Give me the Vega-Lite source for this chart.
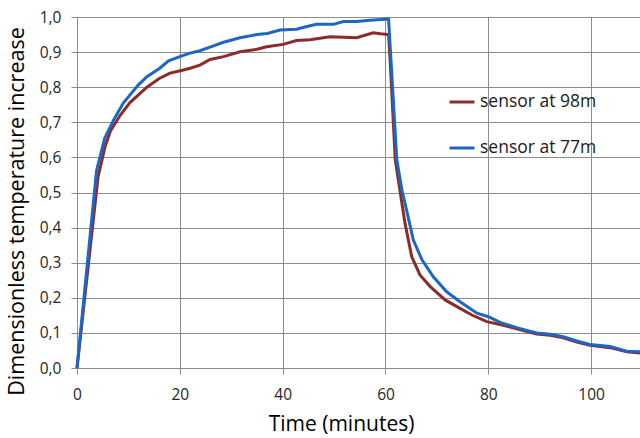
{
  "$schema": "https://vega.github.io/schema/vega-lite/v6.json",
  "width": 563,
  "height": 351,
  "autosize": {"type": "none"},
  "padding": {"left": 77, "top": 17, "right": 0, "bottom": 70},
  "background": "white",
  "config": {
    "locale": {"number": {"decimal": ",", "thousands": " ", "grouping": [3], "currency": ["", " €"]}},
    "view": {"stroke": "transparent"},
    "axis": {
      "labelFont": "Open Sans",
      "labelFontSize": 15.5,
      "labelColor": "#262626",
      "titleFont": "Open Sans",
      "titleFontWeight": "normal",
      "titleColor": "#000000",
      "grid": true,
      "gridColor": "#8c8c8c",
      "domainColor": "#8c8c8c",
      "tickColor": "#8c8c8c",
      "tickSize": 6,
      "labelFlush": false
    }
  },
  "data": {
    "values": [
      {"t": 0, "v": 0, "s": "sensor at 98m"},
      {"t": 4.1, "v": 0.545, "s": "sensor at 98m"},
      {"t": 5.45, "v": 0.63, "s": "sensor at 98m"},
      {"t": 6.5, "v": 0.675, "s": "sensor at 98m"},
      {"t": 8.4, "v": 0.72, "s": "sensor at 98m"},
      {"t": 10.3, "v": 0.756, "s": "sensor at 98m"},
      {"t": 13.6, "v": 0.8, "s": "sensor at 98m"},
      {"t": 16, "v": 0.825, "s": "sensor at 98m"},
      {"t": 18.1, "v": 0.84, "s": "sensor at 98m"},
      {"t": 20.7, "v": 0.849, "s": "sensor at 98m"},
      {"t": 22, "v": 0.854, "s": "sensor at 98m"},
      {"t": 23.9, "v": 0.863, "s": "sensor at 98m"},
      {"t": 25.9, "v": 0.879, "s": "sensor at 98m"},
      {"t": 28.5, "v": 0.887, "s": "sensor at 98m"},
      {"t": 31.7, "v": 0.901, "s": "sensor at 98m"},
      {"t": 35, "v": 0.908, "s": "sensor at 98m"},
      {"t": 36.9, "v": 0.915, "s": "sensor at 98m"},
      {"t": 40.1, "v": 0.922, "s": "sensor at 98m"},
      {"t": 42.7, "v": 0.933, "s": "sensor at 98m"},
      {"t": 45.3, "v": 0.935, "s": "sensor at 98m"},
      {"t": 49.2, "v": 0.944, "s": "sensor at 98m"},
      {"t": 54.4, "v": 0.941, "s": "sensor at 98m"},
      {"t": 57.6, "v": 0.955, "s": "sensor at 98m"},
      {"t": 59, "v": 0.952, "s": "sensor at 98m"},
      {"t": 60.6, "v": 0.95, "s": "sensor at 98m"},
      {"t": 60.9, "v": 0.877, "s": "sensor at 98m"},
      {"t": 61.9, "v": 0.593, "s": "sensor at 98m"},
      {"t": 62.8, "v": 0.507, "s": "sensor at 98m"},
      {"t": 63.8, "v": 0.412, "s": "sensor at 98m"},
      {"t": 65.1, "v": 0.317, "s": "sensor at 98m"},
      {"t": 66.7, "v": 0.265, "s": "sensor at 98m"},
      {"t": 68.7, "v": 0.232, "s": "sensor at 98m"},
      {"t": 71.6, "v": 0.194, "s": "sensor at 98m"},
      {"t": 74.5, "v": 0.17, "s": "sensor at 98m"},
      {"t": 76.8, "v": 0.151, "s": "sensor at 98m"},
      {"t": 79.7, "v": 0.132, "s": "sensor at 98m"},
      {"t": 82.9, "v": 0.122, "s": "sensor at 98m"},
      {"t": 85.5, "v": 0.112, "s": "sensor at 98m"},
      {"t": 89.4, "v": 0.097, "s": "sensor at 98m"},
      {"t": 92, "v": 0.093, "s": "sensor at 98m"},
      {"t": 94.6, "v": 0.086, "s": "sensor at 98m"},
      {"t": 97.2, "v": 0.074, "s": "sensor at 98m"},
      {"t": 99.8, "v": 0.065, "s": "sensor at 98m"},
      {"t": 103.7, "v": 0.058, "s": "sensor at 98m"},
      {"t": 106.9, "v": 0.046, "s": "sensor at 98m"},
      {"t": 109.5, "v": 0.043, "s": "sensor at 98m"},
      {"t": 0, "v": 0, "s": "sensor at 77m"},
      {"t": 3.8, "v": 0.562, "s": "sensor at 77m"},
      {"t": 5.4, "v": 0.655, "s": "sensor at 77m"},
      {"t": 7.1, "v": 0.706, "s": "sensor at 77m"},
      {"t": 9.0, "v": 0.755, "s": "sensor at 77m"},
      {"t": 11.9, "v": 0.806, "s": "sensor at 77m"},
      {"t": 13.6, "v": 0.83, "s": "sensor at 77m"},
      {"t": 16.1, "v": 0.854, "s": "sensor at 77m"},
      {"t": 17.8, "v": 0.875, "s": "sensor at 77m"},
      {"t": 20, "v": 0.887, "s": "sensor at 77m"},
      {"t": 22, "v": 0.897, "s": "sensor at 77m"},
      {"t": 23.9, "v": 0.904, "s": "sensor at 77m"},
      {"t": 26, "v": 0.915, "s": "sensor at 77m"},
      {"t": 28.5, "v": 0.928, "s": "sensor at 77m"},
      {"t": 31.7, "v": 0.941, "s": "sensor at 77m"},
      {"t": 35, "v": 0.95, "s": "sensor at 77m"},
      {"t": 37, "v": 0.953, "s": "sensor at 77m"},
      {"t": 39.5, "v": 0.963, "s": "sensor at 77m"},
      {"t": 42.7, "v": 0.965, "s": "sensor at 77m"},
      {"t": 44.5, "v": 0.972, "s": "sensor at 77m"},
      {"t": 46.6, "v": 0.979, "s": "sensor at 77m"},
      {"t": 49.9, "v": 0.979, "s": "sensor at 77m"},
      {"t": 51.8, "v": 0.987, "s": "sensor at 77m"},
      {"t": 54.4, "v": 0.987, "s": "sensor at 77m"},
      {"t": 57, "v": 0.991, "s": "sensor at 77m"},
      {"t": 60.6, "v": 0.994, "s": "sensor at 77m"},
      {"t": 62.2, "v": 0.593, "s": "sensor at 77m"},
      {"t": 63.2, "v": 0.507, "s": "sensor at 77m"},
      {"t": 64.1, "v": 0.45, "s": "sensor at 77m"},
      {"t": 65.4, "v": 0.365, "s": "sensor at 77m"},
      {"t": 67.1, "v": 0.308, "s": "sensor at 77m"},
      {"t": 69.3, "v": 0.26, "s": "sensor at 77m"},
      {"t": 71.9, "v": 0.217, "s": "sensor at 77m"},
      {"t": 74.5, "v": 0.189, "s": "sensor at 77m"},
      {"t": 77.8, "v": 0.156, "s": "sensor at 77m"},
      {"t": 80, "v": 0.146, "s": "sensor at 77m"},
      {"t": 82.3, "v": 0.13, "s": "sensor at 77m"},
      {"t": 85.5, "v": 0.115, "s": "sensor at 77m"},
      {"t": 89.4, "v": 0.1, "s": "sensor at 77m"},
      {"t": 92, "v": 0.096, "s": "sensor at 77m"},
      {"t": 94.6, "v": 0.089, "s": "sensor at 77m"},
      {"t": 97.2, "v": 0.077, "s": "sensor at 77m"},
      {"t": 99.8, "v": 0.067, "s": "sensor at 77m"},
      {"t": 103.7, "v": 0.061, "s": "sensor at 77m"},
      {"t": 106.9, "v": 0.048, "s": "sensor at 77m"},
      {"t": 109.5, "v": 0.046, "s": "sensor at 77m"}
    ]
  },
  "mark": {"type": "line", "strokeWidth": 3},
  "encoding": {
    "x": {
      "field": "t",
      "type": "quantitative",
      "scale": {"domain": [0, 109.5], "nice": false},
      "axis": {
        "tickCount": 6,
        "title": "Time (minutes)",
        "titleFontSize": 21,
        "titleX": 264,
        "titleY": 56,
        "titleBaseline": "middle",
        "titleAlign": "center",
        "labelPadding": 13
      }
    },
    "y": {
      "field": "v",
      "type": "quantitative",
      "scale": {"domain": [0, 1], "nice": false},
      "axis": {
        "tickCount": 10,
        "format": ".1f",
        "labelPadding": 10,
        "title": "Dimensionless temperature increase",
        "titleFontSize": 21.5,
        "titleX": -60,
        "titleY": 194,
        "titleAngle": -90,
        "titleBaseline": "middle",
        "titleAlign": "center"
      }
    },
    "color": {
      "field": "s",
      "type": "nominal",
      "scale": {"domain": ["sensor at 98m", "sensor at 77m"], "range": ["#8e2a2a", "#1d67c4"]},
      "legend": {
        "orient": "none",
        "legendX": 371,
        "legendY": 71,
        "title": null,
        "symbolType": "stroke",
        "symbolSize": 625,
        "symbolStrokeWidth": 3,
        "labelFont": "Open Sans",
        "labelFontSize": 17.5,
        "labelColor": "#1a1a1a",
        "rowPadding": 23
      }
    }
  }
}
